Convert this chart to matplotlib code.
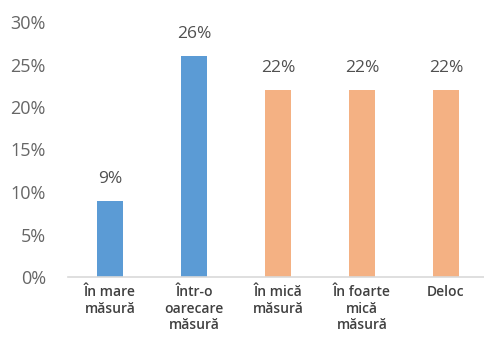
import matplotlib
matplotlib.use("Agg")
import matplotlib.pyplot as plt
from matplotlib.ticker import FuncFormatter

categories = ["În mare\nmăsură", "Într-o\noarecare\nmăsură", "În mică\nmăsură",
              "În foarte\nmică\nmăsură", "Deloc"]
values = [0.09, 0.26, 0.22, 0.22, 0.22]
bar_colors = ["#5B9BD5", "#5B9BD5", "#F4B183", "#F4B183", "#F4B183"]
value_labels = ["9%", "26%", "22%", "22%", "22%"]
yticks = [0, 0.05, 0.10, 0.15, 0.20, 0.25, 0.30]

plt.rcParams["font.family"] = ["Open Sans", "DejaVu Sans"]

fig = plt.figure(figsize=(4.85, 3.38), dpi=100)
ax = fig.add_axes([68 / 485, (338 - 277) / 338, 420 / 485, (277 - 22) / 338])

x = list(range(len(categories)))
bars = ax.bar(x, values, width=0.31, color=bar_colors)

for xi, v, lab in zip(x, values, value_labels):
    ax.annotate(lab, (xi, v), xytext=(0, 10), textcoords="offset points",
                ha="center", va="bottom", fontsize=12.5, color="#505050")

ax.set_xlim(-0.5, len(categories) - 0.5)
ax.set_ylim(0, 0.30)
ax.set_yticks(yticks)
ax.yaxis.set_major_formatter(FuncFormatter(lambda v, p: f"{v * 100:.0f}%"))
ax.set_xticks(x)
ax.set_xticklabels(categories, fontsize=10, color="#404040", linespacing=1.2,
                   fontweight="semibold")

for s in ["top", "right", "left"]:
    ax.spines[s].set_visible(False)
ax.spines["bottom"].set_color("#D9D9D9")
ax.spines["bottom"].set_linewidth(1.2)
ax.tick_params(axis="both", length=0)
ax.tick_params(axis="y", labelsize=13, labelcolor="#666666", pad=16)
ax.tick_params(axis="x", pad=6)

fig.savefig("out.png", dpi=100)
